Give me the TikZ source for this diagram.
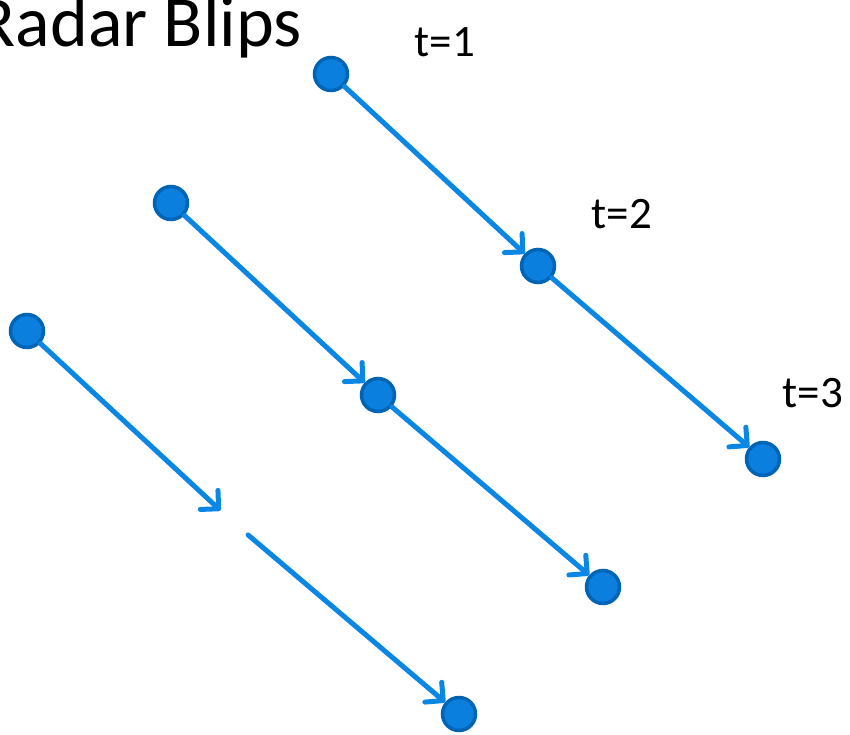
\documentclass[tikz,border=0pt]{standalone}
\usepackage{fontspec}
\setmainfont{Carlito}
\usetikzlibrary{arrows.meta, positioning}
\definecolor{blipblue}{HTML}{0A7FDE}
\definecolor{blipbluedark}{HTML}{0064B4}
\definecolor{trackblue}{HTML}{0A86E4}
\definecolor{textdark}{HTML}{000000}

\begin{document}
\begin{tikzpicture}[
    x=1pt, y=-1pt,
    % ── Node styles ──────────────────────────────────────────────────────
    blip/.style={
        circle, draw=blipbluedark, fill=blipblue,
        line width=3.5pt, minimum size=33pt, inner sep=0pt
    },
    hiddenblip/.style={
        circle, minimum size=36.5pt, inner sep=0pt
    },
    titletext/.style={
        font=\fontsize{72}{80}\selectfont,
        text=textdark, anchor=base east, inner sep=0pt
    },
    timelabel/.style={
        font=\fontsize{45}{50}\selectfont,
        text=textdark, anchor=base, inner sep=0pt
    },
    % ── Arrow style ──────────────────────────────────────────────────────
    track/.style={
        -{Straight Barb[length=13pt, width=26pt, round]},
        line width=5pt, color=trackblue, line cap=round
    }
]
\useasboundingbox (0,0) rectangle (850,735);

% ═══════════════════════════════════════════════════════════════════════════
% 1. Title and time labels
% ═══════════════════════════════════════════════════════════════════════════
\node[titletext] (title) at (302,47) {Radar Blips};

\node[timelabel] (tone)   at (445,57)  {t=1};
\node[timelabel] (ttwo)   at (622,229) {t=2};
\node[timelabel] (tthree) at (813,407) {t=3};

% ═══════════════════════════════════════════════════════════════════════════
% 2. Blips of the three targets
% ═══════════════════════════════════════════════════════════════════════════
% Target A
\node[blip] (aone)   at (331,74)  {};
\node[blip] (atwo)   at (538,266) {};
\node[blip] (athree) at (763,459) {};

% Target B
\node[blip] (bone)   at (171,203) {};
\node[blip] (btwo)   at (378,395) {};
\node[blip] (bthree) at (603,587) {};

% Target C (no blip seen at t=2)
\node[blip]       (cone)   at (27,331)  {};
\node[hiddenblip] (ctwo)   at (234,523) {};
\node[blip]       (cthree) at (459,714) {};

% ═══════════════════════════════════════════════════════════════════════════
% 3. Tracks
% ═══════════════════════════════════════════════════════════════════════════
\draw[track] (aone) -- (atwo);
\draw[track] (atwo) -- (athree);

\draw[track] (bone) -- (btwo);
\draw[track] (btwo) -- (bthree);

\draw[track] (cone) -- (ctwo);
\draw[track] (ctwo) -- (cthree);

\end{tikzpicture}
\end{document}
